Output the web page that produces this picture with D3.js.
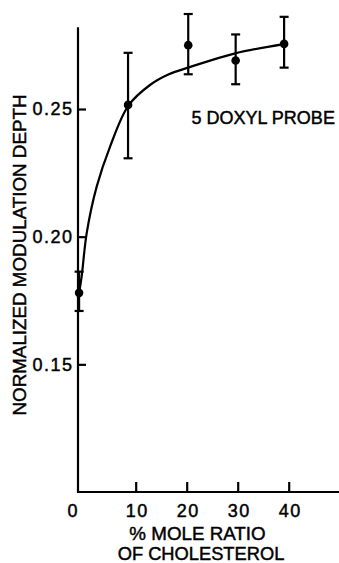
<!DOCTYPE html>
<html>
<head>
<meta charset="utf-8">
<script src="https://cdn.jsdelivr.net/npm/d3@7/dist/d3.min.js"></script>
<style>
  html, body { margin: 0; padding: 0; background: #fff; }
  svg { display: block; }
  text { font-family: "Liberation Sans", Arial, sans-serif; fill: #000; stroke: #000; stroke-width: 0.45px; }
</style>
</head>
<body>
<div id="chart"></div>
<script>
// data
var ratio = [-1.1, 8.5, 20.3, 29.6, 39.1];          // % mole ratio of cholesterol
var depth = [0.178, 0.2516, 0.275, 0.269, 0.2755];   // normalized modulation depth
var errLow = [0.1709, 0.2307, 0.2636, 0.2597, 0.2662];
var errHigh = [0.1863, 0.2720, 0.2872, 0.2792, 0.2861];

// hand drawn fit curve, traced point by point
var fitX = [-1.1, -0.6, 0.4, 2.35, 4.96, 8.6, 12.8, 16.5, 20.6, 29.5, 39.1];
var fitY = [0.1779, 0.1844, 0.2015, 0.2196, 0.2352, 0.2514, 0.2594, 0.2636, 0.2664, 0.2718, 0.2754];

var xTicks = [0, 10, 20, 30, 40];
var yTicks = [0.15, 0.20, 0.25];

var width = 339, height = 563;

var x = d3.scaleLinear().domain([0, 40]).range([84.7, 288.7]);
var y = d3.scaleLinear().domain([0.10, 0.25]).range([492, 109]);

var xMin = x.invert(78), xMax = x.invert(339), yTop = 0.282;

var svg = d3.select("#chart").append("svg")
    .attr("width", width)
    .attr("height", height);

//axes lines
svg.append("line")
  .attr("x1", x(xMin)).attr("x2", x(xMin))
  .attr("y1", y(0.10) + 1).attr("y2", y(yTop))
  .attr("stroke", "#000").attr("stroke-width", 2.2);

svg.append("line")
  .attr("x1", x(xMin) - 1).attr("x2", x(xMax))
  .attr("y1", y(0.10)).attr("y2", y(0.10))
  .attr("stroke", "#000").attr("stroke-width", 2.2);

//ticks
var xAxis = svg.append("g")
  .attr("transform", "translate(0," + y(0.10) + ")")
  .call(d3.axisBottom(x).tickValues(xTicks).tickSizeInner(-10).tickSizeOuter(0).tickPadding(12));
xAxis.select(".domain").remove();
xAxis.selectAll(".tick line").attr("stroke-width", 2.2)
  .filter(function(d) { return d == 0; }).remove();
xAxis.selectAll(".tick text")
  .attr("font-size", 18).attr("letter-spacing", 1.5).attr("font-family", null)
  .attr("dx", function(d) { return d == 0 ? -12 : 1; });

var yAxis = svg.append("g")
  .attr("transform", "translate(" + x(xMin) + ",0)")
  .call(d3.axisLeft(y).tickValues(yTicks).tickSizeInner(-8).tickSizeOuter(0).tickPadding(4.5).tickFormat(d3.format(".2f")));
yAxis.select(".domain").remove();
yAxis.selectAll(".tick line").attr("stroke-width", 2.2);
yAxis.selectAll(".tick text")
  .attr("font-size", 18).attr("letter-spacing", 1.5).attr("font-family", null);

//fit curve
var fit = d3.range(fitX.length).map(function(i) { return [fitX[i], fitY[i]]; });
svg.append("path")
  .datum(fit)
  .attr("d", d3.line().x(function(d) { return x(d[0]); }).y(function(d) { return y(d[1]); }).curve(d3.curveCatmullRom.alpha(0.5)))
  .attr("fill", "none").attr("stroke", "#000").attr("stroke-width", 2.2);

//error bars and points
var pts = d3.range(ratio.length).map(function(i) {
  return {x: ratio[i], y: depth[i], lo: errLow[i], hi: errHigh[i]};
});

var node = svg.selectAll("g.pt")
    .data(pts)
  .enter().append("g")
    .attr("class", "pt");

node.append("line")
  .attr("x1", function(d) { return x(d.x); }).attr("x2", function(d) { return x(d.x); })
  .attr("y1", function(d) { return y(d.lo); }).attr("y2", function(d) { return y(d.hi); })
  .attr("stroke", "#000").attr("stroke-width", 2.2);

["lo", "hi"].forEach(function(k) {
  node.append("line")
    .attr("x1", function(d) { return x(d.x) - 4.5; }).attr("x2", function(d) { return x(d.x) + 4.5; })
    .attr("y1", function(d) { return y(d[k]); }).attr("y2", function(d) { return y(d[k]); })
    .attr("stroke", "#000").attr("stroke-width", 2.2);
});

node.append("circle")
  .attr("cx", function(d) { return x(d.x); })
  .attr("cy", function(d) { return y(d.y); })
  .attr("r", 4.3)
  .attr("fill", "#000");

//labels
svg.append("text")
  .attr("x", 191.5).attr("y", 123.5)
  .attr("font-size", 18)
  .text("5 DOXYL PROBE");

svg.append("text")
  .attr("transform", "translate(26,255) rotate(-90)")
  .attr("text-anchor", "middle")
  .attr("font-size", 18.8)
  .text("NORMALIZED MODULATION DEPTH");

svg.append("text")
  .attr("x", 197.5).attr("y", 540)
  .attr("text-anchor", "middle")
  .attr("font-size", 18.8)
  .text("% MOLE RATIO");

svg.append("text")
  .attr("x", 201).attr("y", 559.5)
  .attr("text-anchor", "middle")
  .attr("font-size", 18.3)
  .text("OF CHOLESTEROL");
</script>
</body>
</html>
